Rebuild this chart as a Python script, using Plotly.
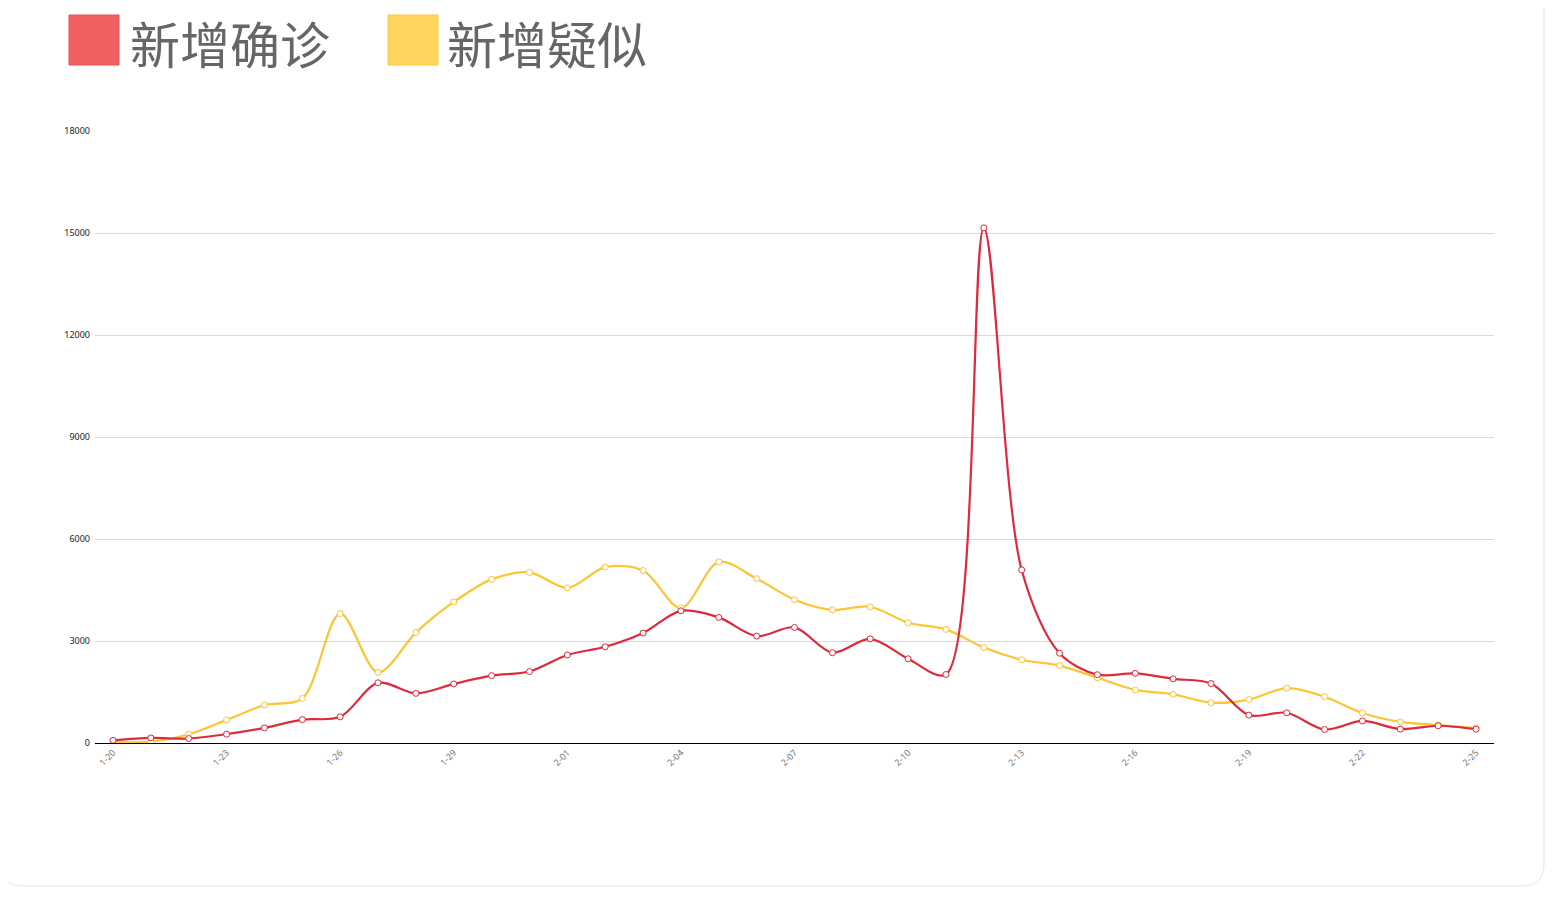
import plotly.graph_objects as go

# 日期
dates = ["1-20", "1-21", "1-22", "1-23", "1-24", "1-25", "1-26", "1-27", "1-28", "1-29",
         "1-30", "1-31", "2-01", "2-02", "2-03", "2-04", "2-05", "2-06", "2-07", "2-08",
         "2-09", "2-10", "2-11", "2-12", "2-13", "2-14", "2-15", "2-16", "2-17", "2-18",
         "2-19", "2-20", "2-21", "2-22", "2-23", "2-24", "2-25"]

# 新增确诊
confirmed = [77, 149, 131, 259, 444, 688, 769, 1771, 1459, 1737,
             1982, 2102, 2590, 2829, 3235, 3887, 3694, 3143, 3399, 2656,
             3062, 2478, 2015, 15152, 5090, 2641, 2009, 2048, 1886, 1749,
             820, 889, 397, 648, 409, 508, 406]

# 新增疑似
suspected = [27, 40, 257, 680, 1118, 1309, 3806, 2077, 3248, 4148,
             4812, 5019, 4562, 5173, 5072, 3971, 5328, 4833, 4214, 3916,
             4008, 3536, 3342, 2807, 2450, 2277, 1918, 1563, 1432, 1185,
             1277, 1614, 1361, 882, 620, 530, 439]

y_ticks = [0, 3000, 6000, 9000, 12000, 15000, 18000]
x_ticks = dates[::3]

RED = "#dd2a3c"
YELLOW = "#fcc531"

# 页面默认有 8px 的 body 边距，这里整体减去
OFF = 8
W, H = 1564 - OFF, 897 - OFF
L, R, T, B = 95 - OFF, 70, 131 - OFF, 154
PW, PH = W - L - R, H - T - B


def px(x):
    return (x - OFF - L) / PW


def py(y):
    return (H - B - (y - OFF)) / PH


fig = go.Figure()
fig.add_trace(go.Scatter(
    x=dates, y=suspected, name="新增疑似", mode="lines+markers",
    line=dict(color=YELLOW, width=2.2, shape="spline", smoothing=0.9),
    marker=dict(size=6, color="white", line=dict(color=YELLOW, width=1)),
))
fig.add_trace(go.Scatter(
    x=dates, y=confirmed, name="新增确诊", mode="lines+markers",
    line=dict(color=RED, width=2.2, shape="spline", smoothing=0.9),
    marker=dict(size=6, color="white", line=dict(color=RED, width=1)),
))

# 自绘图例（大方块 + 大字）
legend_items = [("新增确诊", "#f06262", "#e85050", 69, 130),
                ("新增疑似", "#ffd55f", "#fcc840", 388, 447)]
shapes = []
annotations = []
for label, fill, edge, sx, tx in legend_items:
    shapes.append(dict(type="rect", xref="paper", yref="paper",
                       x0=px(sx), x1=px(sx + 50), y0=py(65), y1=py(15),
                       fillcolor=fill, line=dict(color=edge, width=1)))
    annotations.append(dict(xref="paper", yref="paper", x=px(tx - 2), y=py(42),
                            xanchor="left", yanchor="middle", showarrow=False,
                            text=label, font=dict(size=50, color="#666666",
                                                  family="Noto Sans CJK SC")))

# 卡片边框（圆角）
r = 22
path = (f"M {px(1)},{py(-10)} L {px(1)},{py(886 - r)} "
        f"Q {px(1)},{py(886)} {px(1 + r)},{py(886)} "
        f"L {px(1544 - r)},{py(886)} "
        f"Q {px(1544)},{py(886)} {px(1544)},{py(886 - r)} "
        f"L {px(1544)},{py(-10)}")
shapes.append(dict(type="path", xref="paper", yref="paper", path=path,
                   line=dict(color="#e6e6e6", width=1), layer="below"))

fig.update_layout(
    width=W, height=H,
    margin=dict(l=L, r=R, t=T, b=B),
    paper_bgcolor="white", plot_bgcolor="white",
    showlegend=False,
    shapes=shapes, annotations=annotations,
    font=dict(family="Noto Sans, DejaVu Sans, sans-serif"),
)
fig.update_xaxes(
    type="category", range=[-0.475, len(dates) - 0.525],
    tickmode="array", tickvals=x_ticks, ticktext=x_ticks,
    tickangle=-45, tickfont=dict(size=9, color="#777777"),
    showgrid=False, showline=True, linecolor="black", linewidth=1,
    ticks="", zeroline=False,
)
fig.update_yaxes(
    range=[0, 18000], tickvals=y_ticks, ticktext=[str(v) for v in y_ticks],
    tickfont=dict(size=9, color="#222222"),
    showgrid=True, gridcolor="#d9d9d9", gridwidth=1,
    zeroline=False, showline=False, ticks="", ticklabelstandoff=4,
)

fig.write_html("out.html")
